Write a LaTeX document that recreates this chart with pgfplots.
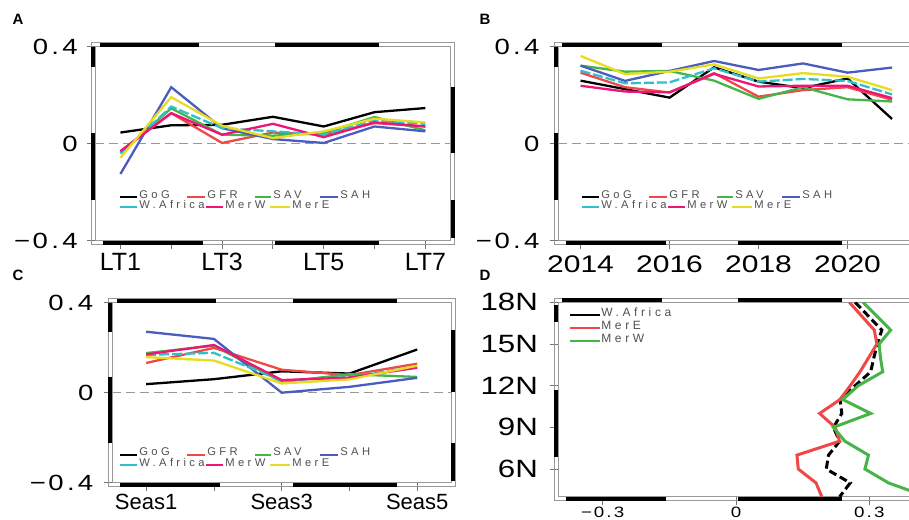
\documentclass[border=0pt]{standalone}
\usepackage{fontspec}
\setmainfont{Liberation Sans}
\newfontfamily\numfont[FakeStretch=1.25]{Liberation Sans}
\newfontfamily\legfont[LetterSpace=30]{Liberation Sans}
\usepackage{pgfplots}
\usepackage{pgfplotstable}
\pgfplotsset{compat=1.18}

\definecolor{cGFR}{HTML}{EE4848}
\definecolor{cSAV}{HTML}{46B446}
\definecolor{cSAH}{HTML}{4A5CC0}
\definecolor{cWA}{HTML}{30C0CC}
\definecolor{cMerW}{HTML}{EE1478}
\definecolor{cMerE}{HTML}{E6DC22}
\definecolor{fr}{HTML}{999999}
\definecolor{legtext}{HTML}{505050}

\newcommand{\dlab}[2]{#1\kern0.15em.\kern0.15em#2}
\newcommand{\mlab}[2]{−\kern0.12em\dlab{#1}{#2}}

\pgfplotstableread{
x GoG GFR SAV SAH WA MerW MerE
1 0.046 -0.031 -0.038 -0.125 -0.041 -0.031 -0.058
2 0.076 0.126 0.146 0.233 0.153 0.126 0.192
3 0.078 0.003 0.037 0.064 0.064 0.037 0.074
4 0.111 0.046 0.033 0.019 0.051 0.082 0.023
5 0.071 0.037 0.044 0.003 0.037 0.027 0.051
6 0.130 0.085 0.110 0.071 0.096 0.088 0.103
7 0.147 0.071 0.055 0.051 0.082 0.071 0.088
}\dataA

\pgfplotstableread{
x GoG GFR SAV SAH WA MerW MerE
2014 0.260 0.293 0.322 0.322 0.301 0.239 0.362
2015 0.225 0.233 0.297 0.259 0.249 0.215 0.287
2016 0.190 0.211 0.300 0.300 0.253 0.212 0.297
2017 0.315 0.291 0.260 0.341 0.311 0.288 0.327
2018 0.256 0.194 0.185 0.304 0.256 0.236 0.269
2019 0.229 0.221 0.233 0.331 0.267 0.239 0.291
2020 0.269 0.233 0.183 0.293 0.259 0.239 0.276
2021 0.102 0.181 0.174 0.314 0.203 0.188 0.221
}\dataB

\pgfplotstableread{
x GoG GFR SAV SAH WA MerW MerE
1 0.038 0.132 0.176 0.271 0.168 0.170 0.158
2 0.060 0.199 0.209 0.239 0.177 0.212 0.143
3 0.095 0.102 0.048 0.000 0.053 0.056 0.041
4 0.085 0.078 0.082 0.026 0.070 0.067 0.059
5 0.192 0.129 0.070 0.066 0.117 0.111 0.120
}\dataC

\pgfplotstableread{
lat WA MerE MerW
18 0.268 0.255 0.286
17 0.298 0.283 0.317
16 0.328 0.311 0.348
15 0.318 0.317 0.322
14 0.310 0.298 0.325
13 0.303 0.279 0.330
12 0.268 0.257 0.275
11 0.234 0.234 0.240
10 0.238 0.188 0.303
9 0.219 0.223 0.219
8 0.233 0.233 0.245
7 0.208 0.137 0.298
6 0.203 0.140 0.290
5 0.257 0.180 0.343
4 0.233 0.193 0.430
}\dataD

\pgfplotsset{
  panel/.style={
    scale only axis, clip=true, anchor=south west,
    axis line style={draw=fr, line width=0.4pt},
    tick align=outside, tick pos=left,
    major tick length=4pt,
    tick style={draw=black!55, line width=0.4pt},
    every tick label/.append style={inner sep=0pt, text=black},
    no markers,
  },
  ln/.style={line width=1.15pt},
}

\newcommand{\hb}[3]{\draw[line width=2pt, black] (#1,#3) -- (#2,#3);}
\newcommand{\vb}[3]{\draw[line width=2pt, black] (#3,#1) -- (#3,#2);}
\newcommand{\lgi}[5]{\draw[#4, line width=1pt] (#1,#3+2.5) -- (#2,#3+2.5);
  \node[anchor=base west, inner sep=0pt, font=\legfont\fontsize{5.6}{5.6}\selectfont, text=legtext] at (#2+2,#3+4) {#5};}
\newcommand{\lgD}[5]{\draw[#4, line width=1pt] (#1,#3+2.5) -- (#2,#3+2.5);
  \node[anchor=base west, inner sep=0pt, font=\legfont\fontsize{6}{6}\selectfont, text=legtext] at (#2+1,#3+4.2) {#5};}

\begin{document}
\begin{tikzpicture}
\useasboundingbox (0,0) rectangle (454.5pt,259.5pt);
\clip (0,0) rectangle (454.5pt,259.5pt);

% ---------------- A ----------------
\begin{axis}[panel, at={(47.5pt,139.15pt)}, width=177.9pt, height=97pt,
  xmin=0.5, xmax=7.5, ymin=-0.4, ymax=0.4,
  xtick={1,2,3,4,5,6,7}, xticklabels={LT1,,LT3,,LT5,,LT7},
  ytick={-0.4,0,0.4}, yticklabels={\mlab{0}{4},0,\dlab{0}{4}},
  xticklabel style={font=\fontsize{12.5}{12.5}\selectfont},
  yticklabel style={font=\numfont\fontsize{11}{11}\selectfont},
  xticklabel shift=2.1pt, yticklabel shift=4.5pt]
\draw[fr, line width=0.6pt, dash pattern=on 4.5pt off 2.5pt] (rel axis cs:0,0.5) -- (rel axis cs:1,0.5);
\addplot[ln, black] table[x=x, y=GoG] {\dataA};
\addplot[ln, cGFR] table[x=x, y=GFR] {\dataA};
\addplot[ln, cSAV] table[x=x, y=SAV] {\dataA};
\addplot[ln, cSAH] table[x=x, y=SAH] {\dataA};
\addplot[ln, cWA, dash pattern=on 5pt off 1.5pt] table[x=x, y=WA] {\dataA};
\addplot[ln, cMerW] table[x=x, y=MerW] {\dataA};
\addplot[ln, cMerE] table[x=x, y=MerE] {\dataA};
\end{axis}

% ---------------- B ----------------
\begin{axis}[panel, at={(279.15pt,139.15pt)}, width=178pt, height=97pt,
  xmin=2013.5, xmax=2021.5, ymin=-0.4, ymax=0.4,
  xtick={2014,2016,2018,2020}, xticklabels={2014,2016,2018,2020},
  ytick={-0.4,0,0.4}, yticklabels={\mlab{0}{4},0,\dlab{0}{4}},
  xticklabel style={font=\numfont\fontsize{12}{12}\selectfont},
  yticklabel style={font=\numfont\fontsize{11}{11}\selectfont},
  xticklabel shift=3.1pt, yticklabel shift=5.2pt]
\draw[fr, line width=0.6pt, dash pattern=on 4.5pt off 2.5pt] (rel axis cs:0,0.5) -- (rel axis cs:1,0.5);
\addplot[ln, black] table[x=x, y=GoG] {\dataB};
\addplot[ln, cGFR] table[x=x, y=GFR] {\dataB};
\addplot[ln, cSAV] table[x=x, y=SAV] {\dataB};
\addplot[ln, cSAH] table[x=x, y=SAH] {\dataB};
\addplot[ln, cWA, dash pattern=on 5pt off 1.5pt] table[x=x, y=WA] {\dataB};
\addplot[ln, cMerW] table[x=x, y=MerW] {\dataB};
\addplot[ln, cMerE] table[x=x, y=MerE] {\dataB};
\end{axis}

% ---------------- C ----------------
\begin{axis}[panel, at={(56.15pt,18.15pt)}, width=169.4pt, height=90pt,
  xmin=0.5, xmax=5.5, ymin=-0.4, ymax=0.4,
  xtick={1,2,3,4,5}, xticklabels={Seas1,,Seas3,,Seas5},
  ytick={-0.4,0,0.4}, yticklabels={\mlab{0}{4},0,\dlab{0}{4}},
  xticklabel style={font=\fontsize{11}{11}\selectfont},
  yticklabel style={font=\numfont\fontsize{11}{11}\selectfont},
  xticklabel shift=1.6pt, yticklabel shift=5.3pt]
\draw[fr, line width=0.6pt, dash pattern=on 4.5pt off 2.5pt] (rel axis cs:0,0.5) -- (rel axis cs:1,0.5);
\addplot[ln, black] table[x=x, y=GoG] {\dataC};
\addplot[ln, cGFR] table[x=x, y=GFR] {\dataC};
\addplot[ln, cSAV] table[x=x, y=SAV] {\dataC};
\addplot[ln, cSAH] table[x=x, y=SAH] {\dataC};
\addplot[ln, cWA, dash pattern=on 5pt off 1.5pt] table[x=x, y=WA] {\dataC};
\addplot[ln, cMerW] table[x=x, y=MerW] {\dataC};
\addplot[ln, cMerE] table[x=x, y=MerE] {\dataC};
\end{axis}

% ---------------- D ----------------
\begin{axis}[panel, at={(279.15pt,11.1pt)}, width=177.75pt, height=97.25pt,
  xmin=-0.4, xmax=0.4, ymin=4, ymax=18,
  xtick={-0.3,0,0.3}, xticklabels={\mlab{0}{3},0,\dlab{0}{3}},
  ytick={6,9,12,15,18}, yticklabels={6N,9N,12N,15N,18N},
  xticklabel style={font=\numfont\fontsize{7.5}{7.5}\selectfont},
  yticklabel style={font=\numfont\fontsize{12.5}{12.5}\selectfont},
  xticklabel shift=0.9pt, yticklabel shift=6pt]
\addplot[line width=1.5pt, black, dash pattern=on 4pt off 2pt] table[x=WA, y=lat] {\dataD};
\addplot[line width=1.5pt, cGFR] table[x=MerE, y=lat] {\dataD};
\addplot[line width=1.5pt, cSAV] table[x=MerW, y=lat] {\dataD};
\end{axis}

% ---------------- decorations (pixel coordinates) ----------------
\begin{scope}[x=0.5pt, y=-0.5pt, yshift=259.5pt]
% outer frames
\draw[fr, line width=0.4pt] (91,42.7) rectangle (454.8,244.7);
\draw[fr, line width=0.4pt] (554.3,42.7) rectangle (916.3,244.7);
\draw[fr, line width=0.4pt] (108.3,298.7) rectangle (455,486.7);
\draw[fr, line width=0.4pt] (554.3,298.3) rectangle (915.8,500.8);
% A bars
\hb{100}{199}{44.7} \hb{275}{379}{44.7}
\hb{103}{203}{242.7} \hb{275}{379}{242.7}
\vb{47}{67}{93} \vb{133}{200}{93}
\vb{87}{153}{452.8} \vb{200}{238}{452.8}
% B bars
\hb{562}{662}{44.7} \hb{738}{842}{44.7}
\hb{566}{666}{242.7} \hb{738}{842}{242.7}
\vb{47}{67}{556.3} \vb{133}{200}{556.3}
% C bars
\hb{117}{216}{300.7} \hb{293}{397}{300.7}
\hb{120}{220}{484.7} \hb{293}{397}{484.7}
\vb{303}{332}{110.3} \vb{377}{443}{110.3}
\vb{330}{392}{453} \vb{443}{481}{453}
% D bars
\hb{562}{662}{300.3} \hb{738}{842}{300.3}
\hb{566}{666}{498.8} \hb{738}{842}{498.8}
\vb{305}{322}{556.3} \vb{390}{457}{556.3}

% panel letters
\node[font=\bfseries\fontsize{7.5}{7.5}\selectfont] at (18,19) {A};
\node[font=\bfseries\fontsize{7.5}{7.5}\selectfont] at (485,19) {B};
\node[font=\bfseries\fontsize{7.5}{7.5}\selectfont] at (18,275) {C};
\node[font=\bfseries\fontsize{7.5}{7.5}\selectfont] at (485,275) {D};

% legends A
\lgi{120}{137}{195}{black}{GoG} \lgi{187}{205}{195}{cGFR}{GFR}
\lgi{255}{271}{195}{cSAV}{SAV} \lgi{320}{338}{195}{cSAH}{SAH}
\lgi{120}{137}{205}{cWA}{W.Africa} \lgi{206}{223}{205}{cMerW}{MerW}
\lgi{270}{290}{205}{cMerE}{MerE}
% legends B
\lgi{582}{599}{195}{black}{GoG} \lgi{649}{667}{195}{cGFR}{GFR}
\lgi{717}{733}{195}{cSAV}{SAV} \lgi{782}{800}{195}{cSAH}{SAH}
\lgi{582}{599}{205}{cWA}{W.Africa} \lgi{668}{685}{205}{cMerW}{MerW}
\lgi{732}{752}{205}{cMerE}{MerE}
% legends C
\lgi{120}{137}{452}{black}{GoG} \lgi{187}{205}{452}{cGFR}{GFR}
\lgi{255}{271}{452}{cSAV}{SAV} \lgi{320}{338}{452}{cSAH}{SAH}
\lgi{120}{137}{462}{cWA}{W.Africa} \lgi{206}{223}{462}{cMerW}{MerW}
\lgi{270}{290}{462}{cMerE}{MerE}
% legend D
\lgD{570}{600}{312.7}{black}{W.Africa}
\lgD{570}{600}{325.5}{cGFR}{MerE}
\lgD{570}{600}{338.5}{cSAV}{MerW}
\end{scope}
\end{tikzpicture}
\end{document}
